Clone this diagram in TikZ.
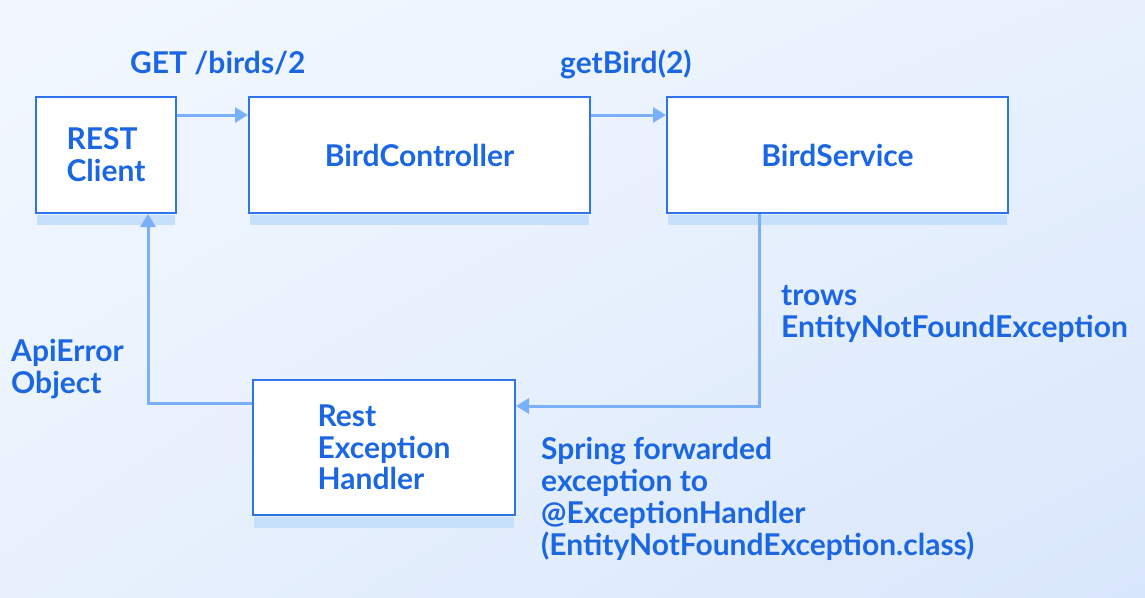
\documentclass[tikz,border=0pt]{standalone}
\usepackage{fontspec}
\setmainfont{Lato}
\usetikzlibrary{arrows.meta,calc,shadings}
\definecolor{bgA}{HTML}{F3F8FE}
\definecolor{bgB}{HTML}{E8F1FD}
\definecolor{bgC}{HTML}{D9E7FC}
\definecolor{txtc}{HTML}{1A66E3}
\definecolor{boxc}{HTML}{2F74EB}
\definecolor{arrc}{HTML}{7AB0FA}
\definecolor{shadc}{HTML}{C6E0FB}
\tikzset{
  lbl/.style={text=txtc, font={\fontsize{30}{31.7}\selectfont\bfseries}, inner sep=0pt, align=left},
  box/.style={draw=boxc, line width=2pt, fill=white, text=txtc, font={\fontsize{30}{31.7}\selectfont\bfseries}, inner sep=0pt, align=left},
  arr/.style={draw=arrc, line width=3pt, -{Triangle[length=13pt,width=15pt]}}
}
\begin{document}
\begin{tikzpicture}[x=1pt,y=-1pt]
\shade[upper left=bgA, upper right=bgB, lower left=bgB, lower right=bgC] (0,0) rectangle (1145,597);
\useasboundingbox (0,0) rectangle (1145,597);
% boxes
\node[box, minimum width=140pt, minimum height=116pt] (rc) at (106,155) {REST\\Client};
\node[box, minimum width=341pt, minimum height=116pt] (bc) at (419.5,155) {BirdController};
\node[box, minimum width=341pt, minimum height=116pt] (bs) at (837.5,155) {BirdService};
\node[box, minimum width=262pt, minimum height=135pt] (reh) at (384,447.5) {Rest\\Exception\\Handler};
% shadows
\fill[shadc] ([xshift=2pt,yshift=-1pt]rc.south west) rectangle ([xshift=-2pt,yshift=-11pt]rc.south east);
\fill[shadc] ([xshift=2pt,yshift=-1pt]bc.south west) rectangle ([xshift=-2pt,yshift=-11pt]bc.south east);
\fill[shadc] ([xshift=2pt,yshift=-1pt]bs.south west) rectangle ([xshift=-2pt,yshift=-11pt]bs.south east);
\fill[shadc] ([xshift=2pt,yshift=-1pt]reh.south west) rectangle ([xshift=-2pt,yshift=-12pt]reh.south east);
% connectors
\draw[arr] ([yshift=-19pt]rc.north east) -- ([yshift=-19pt]bc.north west);
\draw[arr] ([yshift=-19pt]bc.north east) -- ([yshift=-19pt]bs.north west);
\draw[arr] ([xshift=93pt]bs.south west) |- ([yshift=-27pt]reh.north east);
\draw[arr] ([yshift=-24pt]reh.north west) -| ([xshift=42pt]rc.south);
% labels
\node[lbl, anchor=base west] (l1) at (130,73) {GET /birds/2};
\node[lbl, anchor=base west] (l2) at (560,73) {getBird(2)};
\node[lbl, anchor=base west] (l3) at (781,337) {trows\\EntityNotFoundException};
\node[lbl, anchor=base west] (l4) at (11,393) {ApiError\\Object};
\node[lbl, anchor=base west] (l5) at (541,555) {Spring forwarded\\exception to\\@ExceptionHandler\\(EntityNotFoundException.class)};
\end{tikzpicture}
\end{document}
